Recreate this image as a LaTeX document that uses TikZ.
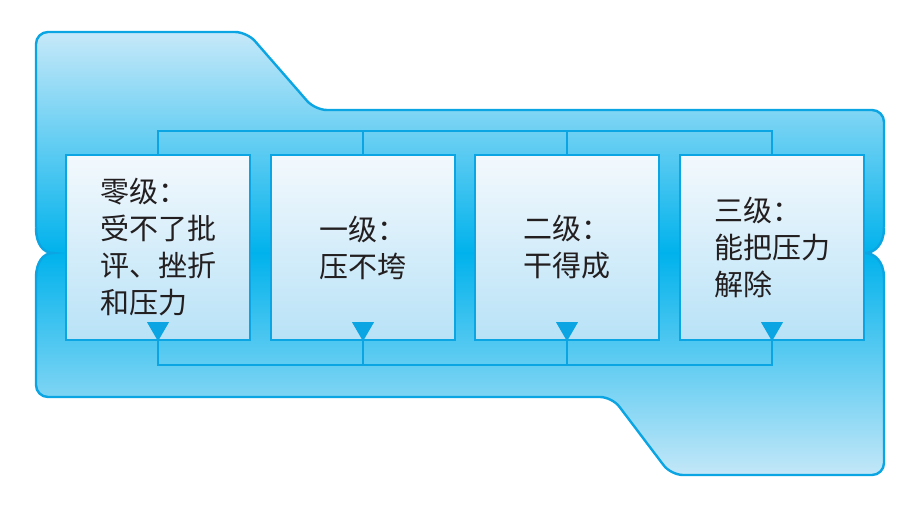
\documentclass[tikz,border=0pt]{standalone}
\usepackage{fontspec}
\newfontfamily\cjk{Noto Sans CJK SC}
\usetikzlibrary{calc}
\definecolor{lineblue}{RGB}{10,165,226}
\definecolor{bglight}{RGB}{200,233,249}
\definecolor{bgmid}{RGB}{0,178,236}
\definecolor{bglightb}{RGB}{198,232,248}
\definecolor{boxtop}{RGB}{243,249,253}
\definecolor{boxbot}{RGB}{184,226,247}
\definecolor{txt}{RGB}{35,31,32}
\tikzset{
  outline/.style={draw=lineblue, line width=2.4pt},
  stagebox/.style={draw=lineblue, line width=2.4pt, top color=boxtop, bottom color=boxbot,
    minimum width=184pt, minimum height=185pt, inner sep=0pt, align=left,
    font=\cjk\fontsize{29pt}{37pt}\selectfont, text=txt},
  link/.style={draw=lineblue, line width=2.4pt},
  tri/.style={fill=lineblue},
}
\begin{document}
\begin{tikzpicture}[x=1pt,y=-1pt]
\useasboundingbox (0,0) rectangle (910,518);
% background shape
\def\bgshape{[rounded corners=12] (36,200) -- (36,32) -- (247,32) -- (315,110) -- (884,110) -- (884,475) -- (671,475) -- (612,397) -- (36,397) -- cycle}
\begin{scope}
  \clip [rounded corners=12] (36,200) -- (36,32) -- (247,32) -- (315,110) -- (884,110) -- (884,475) -- (671,475) -- (612,397) -- (36,397) -- cycle;
  \shade[top color=bglight, bottom color=bgmid] (0,30) rectangle (910,253.5);
  \shade[top color=bgmid, bottom color=bglightb] (0,252.5) rectangle (910,478);
\end{scope}
\draw[outline, rounded corners=12] (36,200) -- (36,32) -- (247,32) -- (315,110) -- (884,110) -- (884,475) -- (671,475) -- (612,397) -- (36,397) -- cycle;
% notches
\fill[white] (28,228) -- (36,228) .. controls (36,245) and (44,253) .. (53,253) .. controls (44,253) and (36,261) .. (36,278) -- (28,278) -- cycle;
\draw[outline] (36,228) .. controls (36,245) and (44,253) .. (53,253) .. controls (44,253) and (36,261) .. (36,278);
\fill[white] (892,228) -- (884,228) .. controls (884,245) and (874,253) .. (865,253) .. controls (874,253) and (884,261) .. (884,278) -- (892,278) -- cycle;
\draw[outline] (884,228) .. controls (884,245) and (874,253) .. (865,253) .. controls (874,253) and (884,261) .. (884,278);
% bars
\coordinate (topbar) at (0,131);
\coordinate (botbar) at (0,365);
% boxes
\node[stagebox] (b1) at (158,247.5) {零级：\\受不了批\\评、挫折\\和压力};
\node[stagebox] (b2) at (363,247.5) {一级：\\压不垮};
\node[stagebox] (b3) at (567,247.5) {二级：\\干得成};
\node[stagebox] (b4) at (772,247.5) {三级：\\能把压力\\解除};
% connectors
\draw[link] (b1.north) |- (topbar -| b4.north) -- (b4.north);
\draw[link] (b2.north) -- (topbar -| b2.north);
\draw[link] (b3.north) -- (topbar -| b3.north);
\draw[link] (b1.south) |- (botbar -| b4.south) -- (b4.south);
\draw[link] (b2.south) -- (botbar -| b2.south);
\draw[link] (b3.south) -- (botbar -| b3.south);
% triangles
\foreach \b in {b1,b2,b3,b4}{
  \fill[tri] ($(\b.south)+(-11,-19)$) -- ($(\b.south)+(11,-19)$) -- (\b.south) -- cycle;
}
\end{tikzpicture}
\end{document}
